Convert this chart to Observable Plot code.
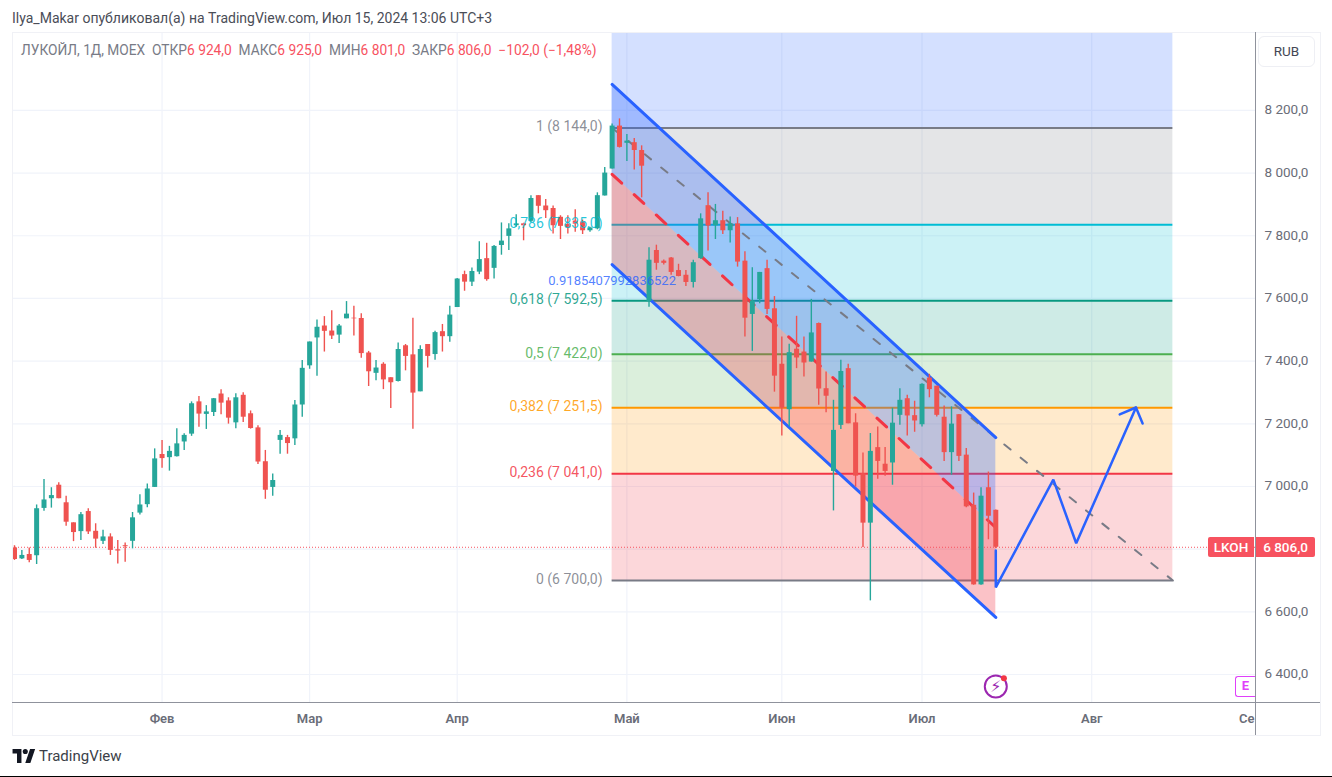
<!DOCTYPE html>
<html lang="ru">
<head>
<meta charset="utf-8">
<script src="https://cdn.jsdelivr.net/npm/d3@7"></script>
<script src="https://cdn.jsdelivr.net/npm/@observablehq/plot@0.6"></script>
<style>
html,body{margin:0;padding:0;background:#fff;overflow:hidden;width:1332px;height:777px;font-family:Roboto,sans-serif}
#chart{position:absolute;left:0;top:32px}
.abs{position:absolute;white-space:nowrap}
#legend span{color:#f7525f}
</style>
</head>
<body>
<div id="chart"></div>
<div class="abs" style="left:12px;top:10px;font-size:14px;line-height:17px;color:#4a4d57">Ilya_Makar опубликовал(а) на TradingView.com, Июл 15, 2024 13:06 UTC+3</div>
<div id="legend" class="abs" style="left:21px;top:42px;font-size:13.75px;line-height:17px;color:#787b86">ЛУКОЙЛ, 1Д, MOEX&nbsp;&nbsp;ОТКР<span>6 924,0</span>&nbsp;&nbsp;МАКС<span>6 925,0</span>&nbsp;&nbsp;МИН<span>6 801,0</span>&nbsp;&nbsp;ЗАКР<span>6 806,0</span>&nbsp;&nbsp;<span>−102,0 (−1,48%)</span></div>
<div class="abs" style="left:12px;top:32px;width:1307px;height:702px;border:1.5px solid #f0f1f6;box-sizing:content-box;pointer-events:none"></div>
<div class="abs" style="left:12px;top:701.5px;width:1308px;height:1.2px;background:#8f929c"></div>
<div class="abs" style="left:1254.5px;top:32px;width:1.2px;height:703px;background:#8f929c"></div>
<div class="abs" style="left:1258px;top:36px;width:57px;height:31px;border:1px solid #eeeff4;border-radius:6px;box-sizing:border-box;font-size:13.5px;line-height:29px;text-align:center;color:#444854;background:#fff">RUB</div>
<div class="abs" style="left:1235px;top:676px;width:20px;height:21px;border:1.5px solid #e040fb;border-right:none;border-radius:3px 0 0 3px;box-sizing:border-box;font-size:13px;line-height:18px;text-align:center;color:#e040fb;font-weight:700;background:#fff">E</div>
<div id="tagName" class="abs" style="left:1208px;width:46px;height:20px;background:#f7525f;color:#fff;font-size:13.5px;line-height:20px;text-align:center;border-radius:2px 0 0 2px;font-weight:500">LKOH</div>
<div id="tagPrice" class="abs" style="left:1256px;width:59px;height:20px;background:#f7525f;color:#fff;font-size:13.5px;line-height:20px;text-align:center;border-radius:0 2px 2px 0;font-weight:500">6 806,0</div>
<svg class="abs" style="left:12px;top:749px" width="24" height="14" viewBox="0 0 36 22"><path fill="#131722" d="M14 22H7V7H0V0h14v22zM28 22h-8L27.5 0h8L28 22z"/><circle fill="#131722" cx="20" cy="4" r="4"/></svg>
<div class="abs" style="left:39px;top:747px;font-size:15px;color:#3c3f48">TradingView</div>
<div class="abs" style="left:0;top:775.5px;width:1332px;height:1.5px;background:#000"></div>
<script>
const opens=[6804,6769,6783,6779,6930,6961,7004,6948,6884,6856,6920,6857,6825,6839,6798,6811,6825,6915,6942,6997,7102,7092,7095,7142,7167,7270,7230,7236,7295,7273,7203,7291,7232,7187,7079,6997,7147,7156,7152,
7260,7385,7474,7512,7496,7483,7535,7537,7536,7426,7361,7390,7347,7335,7449,7420,7302,7453,7421,7494,7478,7571,7676,7652,7684,7727,7696,7769,7798,7832,7838,7846,7928,7895,7887,7859,7836,7847,7844,7816,7822,
7927,8013,8150,8095,8097,8072,7590,7753,7719,7729,7689,7674,7651,7727,7896,7832,7848,7816,7838,7719,7549,7596,7695,
7567,7390,7245,7438,7429,7397,7520,7312,7048,7195,7376,7203,7041,6883,7124,7071,7075,7227,7280,7226,7197,7346,7320,7221,7108,7229,7100,6940,6686,6996,6924];
const closes=[6767,6780,6764,6929,6957,6971,6961,6886,6853,6910,6855,6832,6839,6796,6794,6808,6900,6941,6992,7088,7089,7112,7136,7163,7264,7231,7238,7280,7266,7218,7283,7221,7185,7078,6988,7019,7163,7137,7260,
7377,7461,7508,7495,7480,7512,7550,7535,7424,7366,7378,7340,7331,7437,7415,7298,7437,7415,7491,7478,7547,7662,7652,7686,7724,7660,7766,7783,7822,7838,7832,7919,7894,7880,7832,7830,7825,7837,7816,7825,7928,
8000,8150,8082,8102,8072,8022,7722,7712,7712,7683,7670,7651,7714,7854,7831,7848,7816,7838,7716,7537,7592,7683,7565,
7352,7250,7427,7410,7394,7490,7311,7288,7179,7367,7200,7033,6883,7112,7080,7048,7202,7275,7225,7209,7326,7309,7227,7108,7199,7096,6935,6686,6969,6905,6806];
const highs=[6811,6796,6804,6941,7022,6996,7012,6969,6884,6917,6929,6881,6860,6849,6828,6820,6917,6974,7008,7120,7147,7128,7184,7168,7270,7287,7258,7281,7309,7283,7296,7299,7241,7194,7115,7040,7179,7163,7274,
7402,7461,7531,7542,7561,7517,7590,7575,7551,7431,7402,7395,7347,7458,7453,7537,7449,7453,7495,7517,7575,7664,7687,7697,7781,7776,7769,7841,7838,7867,7840,7928,7928,7916,7895,7864,7864,7883,7850,7827,7937,
8018,8157,8173,8123,8110,8087,7762,7770,7723,7731,7709,7689,7722,7870,7937,7900,7878,7860,7858,7749,7698,7683,7722,
7606,7477,7454,7543,7477,7597,7522,7365,7275,7403,7390,7232,7107,7169,7190,7124,7250,7312,7291,7272,7328,7358,7320,7257,7254,7230,7121,6979,6996,7046,6925];
const lows=[6764,6767,6757,6751,6921,6931,6961,6873,6824,6828,6847,6803,6815,6780,6753,6758,6801,6909,6932,6997,7058,7049,7094,7115,7160,7189,7182,7223,7229,7199,7184,7204,7183,7070,6959,6969,7103,7103,7131,
7221,7374,7352,7429,7469,7456,7535,7480,7409,7319,7337,7309,7249,7333,7369,7183,7302,7378,7403,7429,7460,7571,7623,7638,7676,7655,7662,7738,7753,7827,7784,7843,7870,7855,7806,7788,7806,7811,7804,7811,7819,
7927,8013,8080,8037,8010,7921,7572,7690,7707,7674,7669,7638,7633,7725,7751,7788,7804,7777,7700,7477,7431,7583,7549,
7301,7161,7190,7376,7349,7397,7259,7235,6922,7182,7200,6998,6805,6635,7023,7033,7004,7195,7161,7173,7190,7283,7222,7080,7036,7080,6932,6685,6685,6830,6801];

const yTicks=[6400,6600,6800,7000,7200,7400,7600,7800,8000,8200];
const yLabelTicks=[6400,6600,7000,7200,7400,7600,7800,8000,8200];
const monthTicks=[20,40,60,83,104,123,146,167];
const monthNames=["Фев","Мар","Апр","Май","Июн","Июл","Авг","Се"];

const fibStart=81, fibEnd=157, channelEnd=133;
const fibLevels=[8144,7835,7592.5,7422,7251.5,7041,6700];
const fibLabels=["1 (8 144,0)","0,786 (7 835,0)","0,618 (7 592,5)","0,5 (7 422,0)","0,382 (7 251,5)","0,236 (7 041,0)","0 (6 700,0)"];
const fibColors=["#787b86","#00bcd4","#089981","#4caf50","#ff9800","#f23645","#787b86"];
const bandTops=[8448.6,8144,7835,7592.5,7422,7251.5,7041];
const bandBottoms=[8144,7835,7592.5,7422,7251.5,7041,6700];
const bandColors=["#2962ff","#787b86","#00bcd4","#089981","#4caf50","#ff9800","#f23645"];

const channelX=[81,133];
const channelUpper=[8283,7156];
const channelMid=[7996,6869];
const channelLower=[7708,6582];
const trendX=[81,157];
const trendY=[8144,6700];
const pathX=[133,133,140.8,143.9,152];
const pathY=[6796,6678,7022,6819,7252];
const arrowX=[149.8,152,152.9];
const arrowY=[7230,7252,7201];
const lastClose=6806;

const candles=opens.map((o,i)=>({i,o,c:closes[i],h:highs[i],l:lows[i]}));
const bands=bandColors.map((color,k)=>({color,top:bandTops[k],bottom:bandBottoms[k]}));
const levels=fibLevels.map((v,k)=>({v,label:fibLabels[k],color:fibColors[k]}));
const channel=channelX.map((x,k)=>({x,u:channelUpper[k],m:channelMid[k],l:channelLower[k]}));
const trend=trendX.map((x,k)=>({x,y:trendY[k]}));
const path=pathX.map((x,k)=>({x,y:pathY[k]}));
const arrow=arrowX.map((x,k)=>({x,y:arrowY[k]}));
const xMin=-0.27,xMax=168.2,yMin=6310.7,yMax=8448.6;
const UP="#26a69a",DOWN="#ef5350";
const color=d=>d.c>=d.o?UP:DOWN;
const fmtPrice=d=>String(d).replace(/(\d)(\d{3})$/,"$1 $2")+",0";

const chart=Plot.plot({
  width:1332,height:703,marginLeft:12,marginRight:77,marginTop:0,marginBottom:33,
  style:{background:"transparent",fontFamily:"Roboto, sans-serif"},
  x:{domain:[xMin,xMax],range:[12,1255]},
  y:{domain:[yMin,yMax],range:[670,0]},
  marks:[
    Plot.ruleY(yTicks,{stroke:"#f0f3fa",strokeWidth:1.2}),
    Plot.ruleX(monthTicks.slice(0,7),{stroke:"#f0f3fa",strokeWidth:1.2}),
    Plot.rect(bands,{x1:()=>fibStart,x2:()=>fibEnd,y1:"bottom",y2:"top",fill:d=>d.color,fillOpacity:0.2,inset:0}),
    Plot.ruleY(levels,{x1:()=>fibStart,x2:()=>fibEnd,y:"v",stroke:"color",strokeWidth:2}),
    Plot.areaY(channel,{x:"x",y1:"u",y2:"m",fill:"#2962ff",fillOpacity:0.3}),
    Plot.areaY(channel,{x:"x",y1:"m",y2:"l",fill:"#f23645",fillOpacity:0.3}),
    Plot.ruleY([lastClose],{stroke:"#f7525f",strokeWidth:1,strokeDasharray:"1,2"}),
    Plot.line(trend,{x:"x",y:"y",stroke:"#787b86",strokeWidth:2,strokeDasharray:"8,13"}),
    Plot.line(channel,{x:"x",y:"m",stroke:"#f23645",strokeWidth:3,strokeDasharray:"13,17"}),
    Plot.line(channel,{x:"x",y:"u",stroke:"#2962ff",strokeWidth:3}),
    Plot.line(channel,{x:"x",y:"l",stroke:"#2962ff",strokeWidth:3}),
    Plot.ruleX(candles,{x:"i",y1:"l",y2:"h",stroke:color,strokeWidth:1.4,clip:true}),
    Plot.ruleX(candles,{x:"i",y1:"o",y2:"c",stroke:color,strokeWidth:5,clip:true}),
    Plot.line(path,{x:"x",y:"y",stroke:"#2962ff",strokeWidth:2.5,strokeLinejoin:"miter"}),
    Plot.line(arrow,{x:"x",y:"y",stroke:"#2962ff",strokeWidth:2.5,strokeLinejoin:"miter"}),
    Plot.text(levels,{x:()=>fibStart-1.3,y:"v",text:"label",fill:"color",textAnchor:"end",fontSize:14,fillOpacity:0.85,dy:-1}),
    Plot.text(["0.9185407992836522"],{x:()=>fibStart,y:()=>7657,text:d=>d,fill:"#2962ff",fontSize:13,fillOpacity:0.8,textAnchor:"middle",style:{letterSpacing:"0.8px"}}),
    Plot.dot([0],{x:()=>channelEnd,y:()=>6362,r:11,stroke:"#9c27b0",strokeWidth:2,fill:"#fff"}),
    Plot.text(["⚡"],{x:()=>channelEnd,y:()=>6362,text:d=>d,fill:"#9c27b0",fontSize:16,fontFamily:"DejaVu Sans"}),
    Plot.dot([0],{x:()=>channelEnd+1.1,y:()=>6388,r:3,fill:"#f23645"}),
    Plot.axisY(yLabelTicks,{anchor:"right",tickSize:0,tickPadding:9,tickFormat:fmtPrice,fontSize:13.5,fill:"#6a6d78",label:null,dy:-0.5}),
    Plot.axisX(monthTicks,{anchor:"bottom",tickSize:0,tickPadding:11,tickFormat:(d,i)=>monthNames[monthTicks.indexOf(d)],fontSize:13,fontWeight:600,fill:"#6a6d78",label:null})
  ]
});
document.getElementById("chart").append(chart);
const yPx=32+chart.scale("y").apply(lastClose);
document.getElementById("tagName").style.top=(yPx-10)+"px";
document.getElementById("tagPrice").style.top=(yPx-10)+"px";
</script>
</body>
</html>
